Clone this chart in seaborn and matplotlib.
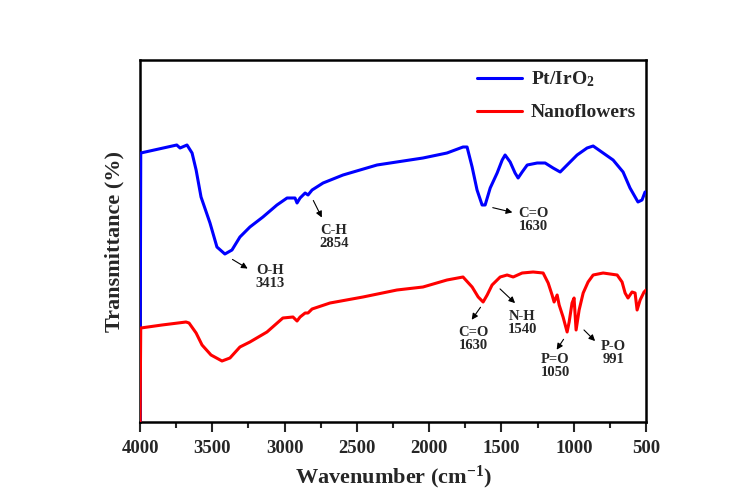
import numpy as np
import pandas as pd
import matplotlib
matplotlib.use("Agg")
import matplotlib.pyplot as plt
import seaborn as sns

# ---- data ----
blue_wn = [4000, 3995, 3746, 3723, 3675, 3640, 3612, 3578, 3516, 3468, 3413, 3364, 3309, 3240,
           3150, 3053, 2983, 2928, 2914, 2893, 2858, 2838, 2810, 2734, 2596, 2361, 2043, 1877,
           1766, 1738, 1703, 1669, 1634, 1613, 1578, 1530, 1495, 1475, 1440, 1406, 1385, 1357,
           1322, 1253, 1198, 1143, 1094, 1046, 977, 908, 866, 797, 728, 659, 611, 556, 528, 507]
blue_t = [0, 269, 277, 274, 277, 269, 252, 225, 199, 175, 168, 172, 185, 195,
          205, 217, 224, 224, 219, 224, 229, 227, 232, 239, 247, 257, 264, 269,
          275, 275, 255, 232, 217, 217, 234, 249, 262, 267, 260, 249, 244, 250,
          257, 259, 259, 254, 250, 257, 267, 274, 276, 269, 262, 250, 234, 220, 222, 230]

red_wn = [4000, 3995, 3848, 3682, 3661, 3612, 3571, 3509, 3433, 3378, 3309, 3240, 3122, 3012,
          2942, 2914, 2893, 2858, 2838, 2810, 2686, 2458, 2223, 2043, 1877, 1766, 1703, 1661,
          1627, 1599, 1565, 1509, 1461, 1419, 1357, 1281, 1212, 1177, 1150, 1136, 1115, 1101,
          1074, 1046, 1032, 1012, 998, 984, 963, 935, 901, 866, 797, 700, 666, 645, 625, 597,
          576, 562, 541, 514, 500]
red_t = [0, 94, 97, 100, 99, 89, 77, 67, 61, 64, 75, 80, 90, 104,
         105, 101, 105, 109, 109, 113, 119, 125, 132, 135, 142, 145, 135, 125,
         120, 127, 137, 145, 147, 145, 149, 150, 149, 139, 127, 120, 127, 117,
         105, 90, 100, 119, 124, 92, 112, 129, 140, 147, 149, 147, 140, 129, 124, 130,
         129, 112, 122, 130, 132]

series_names = ["Pt/IrO$_\\mathbf{2}$", "Nanoflowers"]
series_colors = ["#0000FF", "#FF0000"]

x_ticks = [4000, 3500, 3000, 2500, 2000, 1500, 1000, 500]

# annotations: label, arrow tail (on curve), arrow head, text centre
ann_labels = ["O-H\n3413", "C-H\n2854", "C=O\n1630", "C=O\n1630", "N-H\n1540", "P=O\n1050", "P-O\n991"]
ann_tail = [(3377, 164), (2810, 224), (1579, 215), (1634, 117), (1524, 135), (1060, 85), (943, 94)]
ann_head = [(3239, 152), (2734, 202), (1406, 209), (1717, 100), (1392, 117), (1129, 70), (839, 79)]
ann_text = [(3101, 145), (2660, 185), (1282, 202), (1697, 83), (1358, 99), (1129, 56), (728, 69)]

# ---- build table ----
df = pd.concat([
    pd.DataFrame({"wn": blue_wn, "T": blue_t, "sample": series_names[0]}),
    pd.DataFrame({"wn": red_wn, "T": red_t, "sample": series_names[1]}),
], ignore_index=True)

sns.set_theme(style="white")
plt.rcParams["font.family"] = ["Liberation Serif", "DejaVu Serif"]
plt.rcParams["font.weight"] = "bold"
plt.rcParams["mathtext.fontset"] = "custom"
plt.rcParams["mathtext.rm"] = "Liberation Serif:bold"
plt.rcParams["mathtext.bf"] = "Liberation Serif:bold"
plt.rcParams["mathtext.it"] = "Liberation Serif:bold:italic"

fig = plt.figure(figsize=(7.35, 5.0), dpi=100)
ax = fig.add_axes([0.1905, 0.156, 0.6885, 0.724])

sns.lineplot(data=df, x="wn", y="T", hue="sample", hue_order=series_names,
             palette=series_colors, sort=False, estimator=None, linewidth=2.2, ax=ax,
             legend=True)
for ln in ax.lines:
    ln.set_zorder(3)

ax.set_xlim(4000, 500)
ax.set_ylim(0, 362)
ax.set_xticks(x_ticks)
ax.set_xticklabels([str(t) for t in x_ticks], fontsize=13.5, fontweight="bold")
ax.set_xticks(np.arange(3750, 500, -500), minor=True)
ax.tick_params(axis="x", which="major", direction="out", length=7, width=1.5, bottom=True, pad=6)
ax.tick_params(axis="x", which="minor", direction="out", length=4, width=1.5, bottom=True)
ax.set_yticks([])
for s in ax.spines.values():
    s.set_color("black")
    s.set_linewidth(1.8)

ax.set_xlabel("Wavenumber (cm$^{\\mathbf{-1}}$)", fontsize=16, fontweight="bold", labelpad=5)
ax.set_ylabel("Transmittance (%)", fontsize=16, fontweight="bold", labelpad=11)

for lab, tail, head, txt in zip(ann_labels, ann_tail, ann_head, ann_text):
    ax.annotate("", xy=head, xytext=tail,
                arrowprops=dict(arrowstyle="-|>", color="black", lw=0.8, mutation_scale=9))
    ax.text(txt[0], txt[1], lab, ha="center", va="center", fontsize=10.5,
            fontweight="bold", linespacing=1.0)

leg = ax.legend(loc="upper left", bbox_to_anchor=(0.665, 0.974), frameon=False,
                fontsize=14, handlelength=2.35, labelspacing=0.75, handletextpad=0.45,
                borderaxespad=0, borderpad=0)
for t in leg.get_texts():
    t.set_fontweight("bold")
for l in leg.get_lines():
    l.set_linewidth(2.2)

fig.savefig("out.png", dpi=100, facecolor="white")
